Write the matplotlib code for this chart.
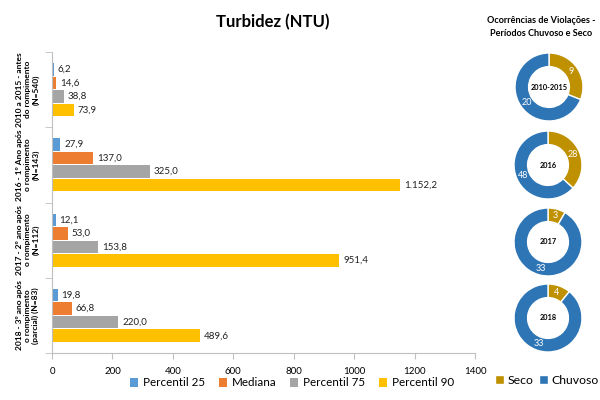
import matplotlib
matplotlib.use("Agg")
import matplotlib.pyplot as plt
import numpy as np

plt.rcParams['font.family'] = ['Lato', 'DejaVu Sans']

groups = ["2010 a 2015 - antes\ndo rompimento\n(N=540)",
          "2016 - 1º Ano após\no rompimento\n(N=143)",
          "2017 - 2º ano após\no rompimento\n(N=112)",
          "2018 - 3º ano após\no rompimento\n(parcial) (N=83)"]
series_names = ["Percentil 25", "Mediana", "Percentil 75", "Percentil 90"]
p25 = [6.2, 27.9, 12.1, 19.8]
mediana = [14.6, 137.0, 53.0, 66.8]
p75 = [38.8, 325.0, 153.8, 220.0]
p90 = [73.9, 1152.2, 951.4, 489.6]
colors = ["#5B9BD5", "#ED7D31", "#A5A5A5", "#FFC000"]

donut_labels = ["2010-2015", "2016", "2017", "2018"]
seco = [9, 28, 3, 4]
chuvoso = [20, 48, 33, 33]
donut_colors = ["#BF9000", "#2E75B6"]

def fmt(v):
    s = f"{v:,.1f}"
    return s.replace(",", "X").replace(".", ",").replace("X", ".")

W, H = 600, 400
fig = plt.figure(figsize=(6, 4), dpi=100)
ax = fig.add_axes([52/W, 1-353/H, (475-52)/W, (353-52)/H])

y = np.arange(len(groups))
h = 0.18
for i, (vals, c) in enumerate(zip([p25, mediana, p75, p90], colors)):
    yy = y + (i - 1.5) * h
    ax.barh(yy, vals, height=h*0.92, color=c, label=series_names[i])
    for yi, v in zip(yy, vals):
        ax.text(v + 12, yi, fmt(v), va='center', ha='left', fontsize=7, color='#222222')

ax.set_xlim(0, 1400)
ax.set_ylim(3.5, -0.5)
ax.set_xticks(np.arange(0, 1401, 200))
ax.tick_params(axis='x', labelsize=7, length=4, color='#BFBFBF', pad=6)
ax.set_yticks([])
ax.set_yticks(np.arange(-0.5, 3.6, 1), minor=True)
ax.tick_params(axis='y', which='minor', length=5, color='#BFBFBF', labelleft=False)
for s in ['top', 'right']:
    ax.spines[s].set_visible(False)
for s in ['left', 'bottom']:
    ax.spines[s].set_color('#BFBFBF')

for i, g in enumerate(groups):
    ax.text(-0.03, i, g, transform=ax.get_yaxis_transform(), rotation=90,
            ha='right', va='center', multialignment='center',
            fontsize=6.0, fontweight='bold', linespacing=1.15)

fig.text(273/W, 1-22/H, "Turbidez (NTU)", ha='center', va='center',
         fontsize=12, fontweight='bold')
fig.legend(*ax.get_legend_handles_labels(), loc='center', bbox_to_anchor=(292/W, 1-383/H),
           ncol=4, frameon=False, fontsize=8.4, handlelength=0.7, handleheight=0.7,
           columnspacing=1.2, handletextpad=0.4)

fig.text(541/W, 1-27/H, "Ocorrências de Violações -\nPeríodos Chuvoso e Seco",
         ha='center', va='center', fontsize=6.6, fontweight='bold', linespacing=1.6)

centers = [(549, 87), (548, 165), (548, 242), (548, 318)]
R = 34
for (cx, cy), lab, s, c in zip(centers, donut_labels, seco, chuvoso):
    dax = fig.add_axes([(cx-R)/W, 1-(cy+R)/H, 2*R/W, 2*R/H])
    wedges, _ = dax.pie([s, c], colors=donut_colors, startangle=90, counterclock=False,
                        radius=1, wedgeprops=dict(width=0.4, edgecolor='white', linewidth=1))
    if lab == donut_labels[0]:
        pie_handles = wedges
    tot = s + c
    ang0 = 90
    for v in (s, c):
        mid = ang0 - 360 * v / tot / 2
        ang0 -= 360 * v / tot
        r = 0.8
        dax.text(r*np.cos(np.radians(mid)), r*np.sin(np.radians(mid)), str(v),
                 ha='center', va='center', color='white', fontsize=6.5)
    dax.text(0, 0, lab, ha='center', va='center', fontsize=5.3, fontweight='bold')
    dax.set_xlim(-1, 1)
    dax.set_ylim(-1, 1)
    dax.set_aspect('equal')
    dax.axis('off')

fig.legend(pie_handles, ["Seco", "Chuvoso"], loc='center', bbox_to_anchor=(547/W, 1-380/H),
           ncol=2, frameon=False, fontsize=8.8, handlelength=0.7, handleheight=0.7,
           columnspacing=0.5, handletextpad=0.3, borderpad=0.1)

fig.savefig("out.png", dpi=100)
